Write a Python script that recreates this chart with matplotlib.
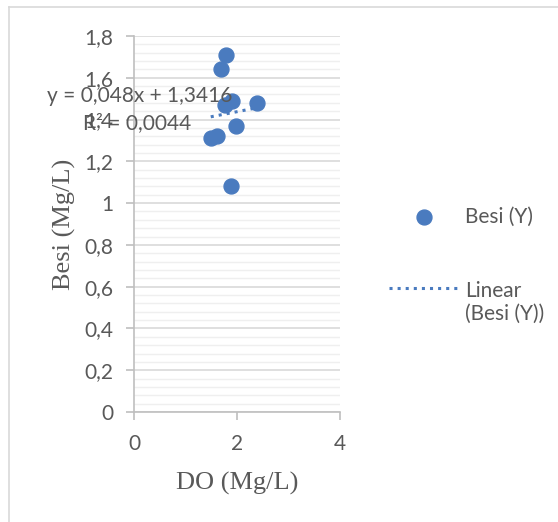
import matplotlib.pyplot as plt
import numpy as np
from matplotlib.ticker import MultipleLocator, FuncFormatter

# data
do_x = [1.78, 1.68, 1.90, 1.77, 2.39, 1.98, 1.49, 1.61, 1.88]
besi_y = [1.71, 1.64, 1.49, 1.47, 1.48, 1.37, 1.31, 1.32, 1.08]
slope = 0.048
intercept = 1.3416
r2 = 0.0044

blue = '#4a7bbf'
grey = '#595959'

fig = plt.figure(figsize=(5.58, 5.22), dpi=100)
ax = fig.add_axes([134/558, 1-412/522, (340-134)/558, (412-36)/522])

ax.scatter(do_x, besi_y, s=115, color=blue, zorder=3, label='Besi (Y)')
xt = np.array([min(do_x), max(do_x)])
ax.plot(xt, slope*xt + intercept, ':', color=blue, lw=2.2, zorder=2,
        label='Linear\n(Besi (Y))')

ax.set_xlim(0, 4)
ax.set_ylim(0, 1.8)
ax.xaxis.set_major_locator(MultipleLocator(2))
ax.yaxis.set_major_locator(MultipleLocator(0.2))
ax.yaxis.set_minor_locator(MultipleLocator(0.04))

def comma(v, pos):
    s = ('%.1f' % v).replace('.', ',')
    if s.endswith(',0'):
        s = s[:-2]
    return s

ax.yaxis.set_major_formatter(FuncFormatter(comma))
ax.xaxis.set_major_formatter(FuncFormatter(comma))

ax.grid(axis='y', which='major', color='#d9d9d9', lw=1.2)
ax.grid(axis='y', which='minor', color='#efefef', lw=1.0)
ax.set_axisbelow(True)
for s in ['top', 'right']:
    ax.spines[s].set_visible(False)
for s in ['left', 'bottom']:
    ax.spines[s].set_color('#bfbfbf')
    ax.spines[s].set_linewidth(1.2)
ax.tick_params(axis='both', which='major', colors='#bfbfbf', labelcolor=grey,
               labelsize=15, length=6, width=1.2)
ax.tick_params(axis='y', which='minor', length=0)
ax.tick_params(axis='y', pad=9)
ax.tick_params(axis='x', pad=10)
for lab in ax.get_xticklabels() + ax.get_yticklabels():
    lab.set_fontfamily('Lato')

ax.set_xlabel('DO (Mg/L)', family='Liberation Serif', fontsize=19, color=grey, labelpad=13)
ax.set_ylabel('Besi (Mg/L)', family='Liberation Serif', fontsize=19, color=grey, labelpad=6)

ax.text(0.12, 1.513, 'y = 0,048x + 1,3416', family='Lato', fontsize=15, color=grey,
        ha='center', va='center')
ax.text(-0.99, 1.383, 'R² = 0,0044', family='Lato', fontsize=15, color=grey,
        ha='left', va='center')

leg = fig.legend(loc='upper left', bbox_to_anchor=(370/558, 1-188/522), frameon=False,
                 prop={'family': 'Lato', 'size': 15}, labelcolor=grey,
                 handlelength=3.38, labelspacing=2.6, handletextpad=0.28)
# put the trendline sample level with the first text line, as in the original
legline = leg.get_lines()[0]
legline.set_ydata(np.asarray(legline.get_ydata()) + 10.8)

# outer chart border
fig.add_artist(plt.Line2D([9/558, 9/558], [0, 1-7/522], color='#d9d9d9', lw=1.2))
fig.add_artist(plt.Line2D([9/558, 1], [1-7/522, 1-7/522], color='#d9d9d9', lw=1.2))

fig.savefig('out.png', dpi=100)
